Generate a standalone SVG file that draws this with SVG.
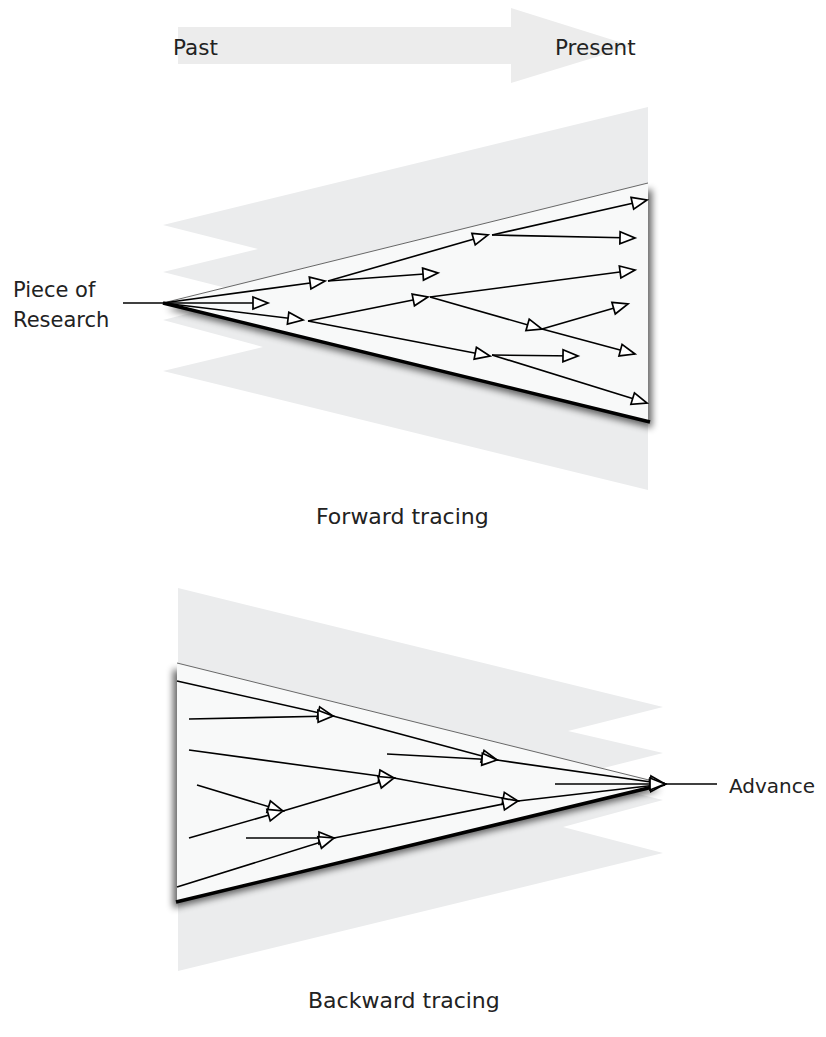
<svg xmlns="http://www.w3.org/2000/svg" width="826" height="1037" viewBox="0 0 826 1037">
<defs>
<style>
.lbl{font-family:"DejaVu Sans","Liberation Sans",sans-serif;fill:#222;}
.band{fill:#ebeced;}
.cone{fill:#f8f9f9;}
.edge-top{stroke:#444;stroke-width:0.8;fill:none;}
.edge-bot{stroke:#000;stroke-width:3.5;fill:none;stroke-linecap:butt;}
.c{stroke:#000;stroke-width:1.6;fill:none;marker-end:url(#oa);}
.ln{stroke:#000;stroke-width:1.6;fill:none;}
</style>
<marker id="oa" markerUnits="userSpaceOnUse" markerWidth="20" markerHeight="18" refX="16" refY="7" orient="auto" overflow="visible">
<path d="M1,1 L16,7 L1,13 Z" fill="#fff" stroke="#000" stroke-width="1.7" stroke-linejoin="miter"/>
</marker>
<filter id="shR" x="-10%" y="-10%" width="130%" height="140%">
<feGaussianBlur in="SourceAlpha" stdDeviation="3.5"/>
<feOffset dx="4" dy="6" result="b"/>
<feComponentTransfer><feFuncA type="linear" slope="0.6"/></feComponentTransfer>
<feMerge><feMergeNode/><feMergeNode in="SourceGraphic"/></feMerge>
</filter>
<filter id="shL" x="-10%" y="-10%" width="130%" height="140%">
<feGaussianBlur in="SourceAlpha" stdDeviation="3.5"/>
<feOffset dx="-4" dy="6" result="b"/>
<feComponentTransfer><feFuncA type="linear" slope="0.6"/></feComponentTransfer>
<feMerge><feMergeNode/><feMergeNode in="SourceGraphic"/></feMerge>
</filter>
</defs>

<g id="timeline">
<polygon points="178,27 511,27 511,8 632,46 511,83 511,64 178,64" fill="#ececec"/>
<text class="lbl" x="173" y="55" font-size="21.5">Past</text>
<text class="lbl" x="555" y="55" font-size="21.5">Present</text>
</g>

<g id="forward-cone">
<polygon class="band" points="648,107 163,225 258,249 163,272 258,296 163,320 263,347 163,371 648,490"/>
<polygon class="cone" points="163,303 648,183 648,422" filter="url(#shR)"/>
<line class="edge-top" x1="163" y1="303" x2="648" y2="183"/>
<line class="edge-bot" x1="163" y1="303" x2="650" y2="422"/>
</g>

<g id="piece-of-research">
<text class="lbl" x="13" y="297" font-size="21">Piece of</text>
<text class="lbl" x="13" y="327" font-size="21">Research</text>
</g>

<g id="forward-caption">
<text class="lbl" x="316" y="524" font-size="22">Forward tracing</text>
</g>

<g id="backward-cone">
<polygon class="band" points="178,588 663,707 568,731 663,753 568,777 663,800 563,827 663,853 178,971"/>
<polygon class="cone" points="177,663 665,784 177,902" filter="url(#shL)"/>
<line class="edge-top" x1="177" y1="663" x2="665" y2="784"/>
<line class="edge-bot" x1="176" y1="902" x2="665" y2="784"/>
</g>

<g id="advance">
<text class="lbl" x="729" y="793" font-size="20">Advance</text>
</g>

<g id="backward-caption">
<text class="lbl" x="308" y="1008" font-size="22">Backward tracing</text>
</g>

<g id="connectors">
<line class="ln" x1="123" y1="303" x2="163" y2="303"/>
<line class="c" x1="163" y1="303" x2="268" y2="303"/>
<line class="c" x1="163" y1="303" x2="325" y2="281"/>
<line class="c" x1="163" y1="303" x2="303" y2="320"/>
<line class="c" x1="328" y1="281" x2="488" y2="235"/>
<line class="c" x1="328" y1="281" x2="438" y2="273"/>
<line class="c" x1="492" y1="235" x2="647" y2="200"/>
<line class="c" x1="492" y1="235" x2="635" y2="238"/>
<line class="c" x1="308" y1="321" x2="428" y2="297"/>
<line class="c" x1="308" y1="321" x2="490" y2="356"/>
<line class="c" x1="430" y1="297" x2="635" y2="270"/>
<line class="c" x1="430" y1="297" x2="542" y2="329"/>
<line class="c" x1="542" y1="329" x2="628" y2="304"/>
<line class="c" x1="542" y1="329" x2="635" y2="354"/>
<line class="c" x1="492" y1="355" x2="578" y2="356"/>
<line class="c" x1="492" y1="355" x2="647" y2="403"/>

<line class="c" x1="177" y1="681" x2="333" y2="716"/>
<line class="c" x1="189" y1="719" x2="333" y2="716"/>
<line class="c" x1="189" y1="750" x2="394" y2="778"/>
<line class="c" x1="197" y1="785" x2="283" y2="811"/>
<line class="c" x1="189" y1="838" x2="283" y2="811"/>
<line class="c" x1="283" y1="811" x2="394" y2="778"/>
<line class="c" x1="246" y1="838" x2="334" y2="838"/>
<line class="c" x1="177" y1="887" x2="334" y2="838"/>
<line class="c" x1="333" y1="716" x2="497" y2="760"/>
<line class="c" x1="387" y1="754" x2="497" y2="760"/>
<line class="c" x1="394" y1="778" x2="518" y2="801"/>
<line class="c" x1="334" y1="838" x2="518" y2="801"/>
<line class="c" x1="497" y1="760" x2="665" y2="784"/>
<line class="c" x1="518" y1="801" x2="665" y2="784"/>
<line class="c" x1="555" y1="784" x2="665" y2="784"/>
<line class="ln" x1="665" y1="784" x2="717" y2="784"/>
</g>
</svg>
